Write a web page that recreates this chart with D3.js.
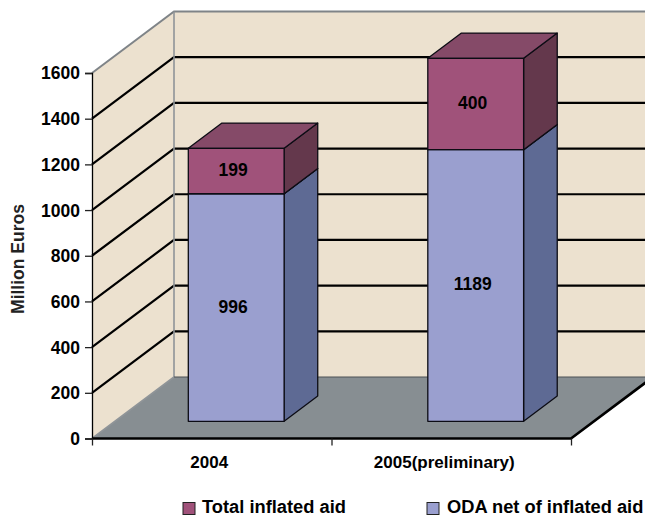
<!DOCTYPE html>
<html>
<head>
<meta charset="utf-8">
<script src="https://d3js.org/d3.v7.min.js"></script>
<style>
  html, body { margin: 0; padding: 0; background: #fff; overflow: hidden; }
  text { font-family: "Liberation Sans", Arial, sans-serif; font-weight: bold; fill: #000; }
</style>
</head>
<body>
<div id="graph"></div>
<script>
const categories = ["2004", "2005(preliminary)"];
const odaValues = [996, 1189];
const inflatedValues = [199, 400];
const yTicks = [0, 200, 400, 600, 800, 1000, 1200, 1400, 1600];
const seriesNames = ["Total inflated aid", "ODA net of inflated aid"];

const width = 645, height = 517;
const svg = d3.select("#graph").append("svg")
              .attr("width", width).attr("height", height)
              .style("display", "block");

const yScale = d3.scaleLinear().domain([0, 1600]).range([438.5, 73]);
const xEdge = d3.scaleLinear().domain([0, 2]).range([92, 571]);
const xBand = d3.scaleBand().domain(categories).range([92, 571]).paddingInner(0.6).paddingOuter(0.3);
// depth goes 0 (front) to 1 (back wall)
const depthX = d3.scaleLinear().domain([0, 1]).range([0, 82]);
const depthY = d3.scaleLinear().domain([0, 1]).range([0, -61.5]);

// x in px, v in chart units, z in depth
const pt = (x, v, z) => [x + depthX(z), yScale(v) + depthY(z)];
const line = d3.line();
const poly = pts => line(pts) + "Z";

const xEnd = xEdge.range()[1];
const xStart = xEdge.range()[0];

// walls and floor
svg.append("path").attr("d", poly([pt(xStart,0,0), pt(xStart,0,1), pt(xStart,1600,1), pt(xStart,1600,0)])).attr("fill", "#ece1cf");
svg.append("path").attr("d", poly([pt(xStart,0,1), pt(xEnd,0,1), pt(xEnd,1600,1), pt(xStart,1600,1)])).attr("fill", "#ece1cf");
svg.append("path").attr("d", poly([pt(xStart,0,0), pt(xEnd,0,0), pt(xEnd,0,1), pt(xStart,0,1)])).attr("fill", "#878e92");

// gridlines
svg.append("g").selectAll("path").data(yTicks.filter(d => d > 0 && d < 1600)).join("path")
   .attr("d", d => line([pt(xStart,d,0), pt(xStart,d,1), pt(xEnd,d,1)]))
   .attr("fill", "none").attr("stroke", "#000").attr("stroke-width", 2.2);

// wall edges
svg.append("path").attr("d", line([pt(xStart,1600,0), pt(xStart,1600,1), pt(xEnd,1600,1)]))
   .attr("fill", "none").attr("stroke", "#7f8488").attr("stroke-width", 2);
svg.append("path").attr("d", line([pt(xStart,0,0), pt(xStart,0,1), pt(xStart,1600,1)]))
   .attr("fill", "none").attr("stroke", "#8f9498").attr("stroke-width", 1.6);
svg.append("path").attr("d", line([pt(xStart,0,1), pt(xEnd,0,1)]))
   .attr("fill", "none").attr("stroke", "#4c5054").attr("stroke-width", 1);
svg.append("path").attr("d", line([pt(xStart,0,0), pt(xEnd,0,0), pt(xEnd,0,1)]))
   .attr("fill", "none").attr("stroke", "#000").attr("stroke-width", 2.6);

// stacked bars
const zFront = 0.28, zBack = 0.69, barShift = 1.5;
const segments = [
  { values: odaValues, base: odaValues.map(() => 0), front: "#9a9fcf", side: "#5e6a94", top: "#7c80a8" },
  { values: inflatedValues, base: odaValues, front: "#a0527a", side: "#64384c", top: "#854a68" }
];
function drawBlock(g, x, w, v0, v1, s) {
  const faces = [
    { d: poly([pt(x+w,v0,zFront), pt(x+w,v0,zBack), pt(x+w,v1,zBack), pt(x+w,v1,zFront)]), fill: s.side },
    { d: poly([pt(x,v1,zFront), pt(x+w,v1,zFront), pt(x+w,v1,zBack), pt(x,v1,zBack)]), fill: s.top },
    { d: poly([pt(x,v0,zFront), pt(x+w,v0,zFront), pt(x+w,v1,zFront), pt(x,v1,zFront)]), fill: s.front }
  ];
  g.selectAll("path").data(faces).join("path")
   .attr("d", d => d.d).attr("fill", d => d.fill)
   .attr("stroke", "#0c0c14").attr("stroke-width", 1.3).attr("stroke-linejoin", "round");
}
categories.forEach((c, i) => {
  segments.forEach(s => {
    const g = svg.append("g");
    drawBlock(g, xBand(c) + barShift, xBand.bandwidth(), s.base[i], s.base[i] + s.values[i], s);
  });
});

// value labels
segments.forEach(s => {
  svg.append("g").selectAll("text").data(categories).join("text")
     .attr("x", c => pt(xBand(c) + xBand.bandwidth() / 2, 0, zFront)[0] - 1.5)
     .attr("y", (c, i) => pt(0, s.base[i] + s.values[i] / 2, zFront)[1] + 5)
     .attr("text-anchor", "middle").attr("font-size", 17.5)
     .text((c, i) => s.values[i]);
});

// axes
const leftAxis = svg.append("g").attr("transform", `translate(${xStart},0)`)
   .call(d3.axisLeft(yScale).tickValues(yTicks).tickSize(7).tickPadding(5).tickFormat(d3.format("d")));
leftAxis.attr("font-family", null).attr("font-size", null);
leftAxis.selectAll("text").attr("font-size", 17.5).attr("dy", "0.34em");
leftAxis.select(".domain").attr("stroke", "#000").attr("stroke-width", 1.3);
leftAxis.selectAll(".tick line").attr("stroke", "#222").attr("stroke-width", 1.3);

const bottomAxis = svg.append("g").attr("transform", `translate(0,${yScale(0)})`)
   .call(d3.axisBottom(xEdge).tickValues([0, 1, 2]).tickSize(7).tickFormat(""));
bottomAxis.select(".domain").remove();
bottomAxis.selectAll(".tick line").attr("stroke", "#222").attr("stroke-width", 1.3);

svg.append("g").selectAll("text").data(categories).join("text")
   .attr("x", (c, i) => xBand(c) + xBand.bandwidth() / 2 - [2.5, 7][i])
   .attr("y", 468).attr("text-anchor", "middle")
   .attr("font-size", 17).text(c => c);

// y title
svg.append("text").attr("transform", "translate(24,259) rotate(-90)")
   .attr("text-anchor", "middle").attr("font-size", 17.5).style("fill", "#222")
   .text("Million Euros");

// legend
const legendX = [183, 427], legendColors = ["#a0527a", "#9a9fcf"];
const legend = svg.append("g").selectAll("g").data(seriesNames).join("g")
   .attr("transform", (d, i) => `translate(${legendX[i]},502.5)`);
legend.append("rect").attr("width", 12).attr("height", 12)
   .attr("fill", (d, i) => legendColors[i]).attr("stroke", "#222").attr("stroke-width", 1);
legend.append("text").attr("x", (d, i) => [19, 20][i]).attr("y", 10.2)
   .attr("font-size", 18.3).text(d => d);
</script>
</body>
</html>
